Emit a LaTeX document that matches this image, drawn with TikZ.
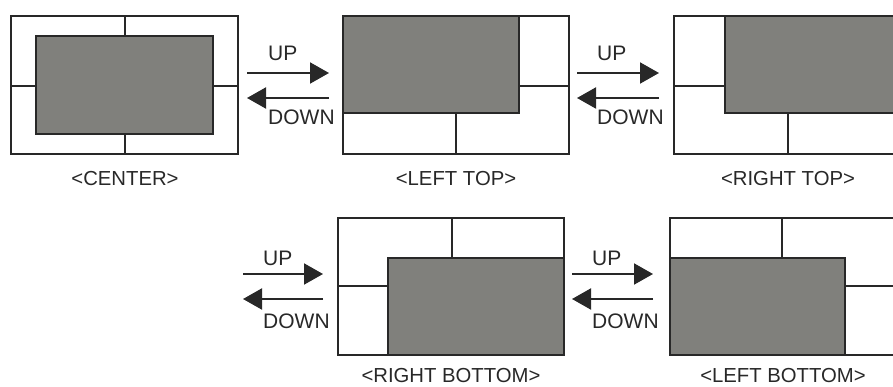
\documentclass[tikz,border=0pt]{standalone}
\usepackage{fontspec}
\setmainfont{Liberation Sans}
\usetikzlibrary{arrows.meta}

\definecolor{screen}{RGB}{128,128,124}
\definecolor{edge}{RGB}{40,40,40}

\tikzset{
  frame/.style={draw=edge, line width=2.2pt},
  win/.style={fill=screen, draw=edge, line width=2.2pt},
  move/.style={draw=edge, line width=2pt, -{Triangle[length=19pt,width=21pt]}},
  tag/.style={font=\fontsize{20.3}{20.3}\selectfont, text=edge, inner sep=0pt, anchor=base},
  dir/.style={font=\fontsize{21}{21}\selectfont, text=edge, inner sep=0pt, anchor=base west}
}

\begin{document}
\begin{tikzpicture}[x=1pt, y=-1pt]
        \useasboundingbox (0,0) rectangle (893,387);

        % center
        \draw[frame] (11,16) rectangle (238,154);
        \draw[frame] (125,16) -- (125,154);
        \draw[frame] (11,86) -- (238,86);
        \draw[win] (36,36) rectangle (213,134);
        \node[tag] (center) at (125,186) {<CENTER>};

        % left top
        \draw[frame] (343,16) rectangle (569,154);
        \draw[frame] (456,100) -- (456,154);
        \draw[frame] (500,86) -- (569,86);
        \draw[win] (343,16) rectangle (519,113);
        \node[tag] (lefttop) at (456,186) {<LEFT TOP>};

        % right top
        \draw[frame] (674,16) rectangle (900,154);
        \draw[frame] (788,100) -- (788,154);
        \draw[frame] (674,86) -- (740,86);
        \draw[win] (725,16) rectangle (900,113);
        \node[tag] (righttop) at (788,186) {<RIGHT TOP>};

        % right bottom
        \draw[frame] (338,218) rectangle (564,355);
        \draw[frame] (452,218) -- (452,270);
        \draw[frame] (338,286) -- (400,286);
        \draw[win] (388,258) rectangle (564,355);
        \node[tag] (rightbottom) at (451,382) {<RIGHT BOTTOM>};

        % left bottom
        \draw[frame] (670,218) rectangle (896,355);
        \draw[frame] (782,218) -- (782,270);
        \draw[frame] (830,286) -- (896,286);
        \draw[win] (670,258) rectangle (845,355);
        \node[tag] (leftbottom) at (783,382) {<LEFT BOTTOM>};

        % up / down
        \coordinate (ua1) at (247,73);  \coordinate (ub1) at (329,73);
        \coordinate (da1) at (329,98);  \coordinate (db1) at (247,98);
        \coordinate (ua2) at (577,73);  \coordinate (ub2) at (659,73);
        \coordinate (da2) at (659,98);  \coordinate (db2) at (577,98);
        \coordinate (ua3) at (243,274); \coordinate (ub3) at (323,274);
        \coordinate (da3) at (323,299); \coordinate (db3) at (243,299);
        \coordinate (ua4) at (572,274); \coordinate (ub4) at (653,274);
        \coordinate (da4) at (653,299); \coordinate (db4) at (572,299);

        \draw[move] (ua1) -- (ub1);
        \draw[move] (da1) -- (db1);
        \draw[move] (ua2) -- (ub2);
        \draw[move] (da2) -- (db2);
        \draw[move] (ua3) -- (ub3);
        \draw[move] (da3) -- (db3);
        \draw[move] (ua4) -- (ub4);
        \draw[move] (da4) -- (db4);

        \node[dir] (up1) at (268,61) {UP};
        \node[dir] (down1) at (268,125) {DOWN};
        \node[dir] (up2) at (597,61) {UP};
        \node[dir] (down2) at (597,125) {DOWN};
        \node[dir] (up3) at (263,265) {UP};
        \node[dir] (down3) at (263,328) {DOWN};
        \node[dir] (up4) at (592,265) {UP};
        \node[dir] (down4) at (592,328) {DOWN};
    \end{tikzpicture}
\end{document}
